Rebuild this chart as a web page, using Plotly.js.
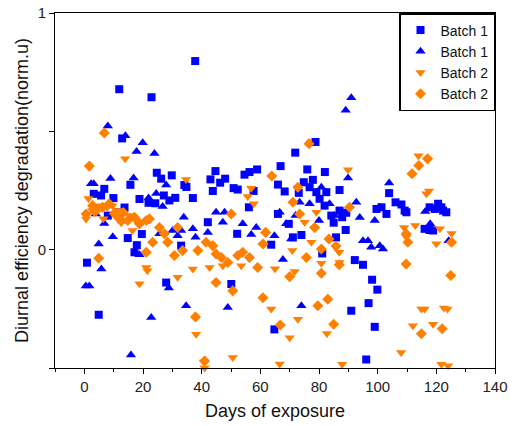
<!DOCTYPE html>
<html>
<head>
<meta charset="utf-8">
<script src="https://cdn.plot.ly/plotly-3.0.1.min.js"></script>
<style>html,body{margin:0;padding:0;background:#fff;}#chart{width:515px;height:426px;}</style>
</head>
<body>
<div id="chart"></div>
<script>
// Batch 1 (squares)
const b1sqX = [0.9,3.2,4.9,5.7,6.8,8.0,9.9,11.2,11.9,12.9,13.7,14.8,15.7,17.1,17.9,18.8,19.6,21.9,22.9,24.2,24.7,26.2,27.1,27.9,29.0,29.8,31.0,33.0,34.1,34.8,37.0,37.8,42.1,43.0,43.8,44.7,46.3,48.0,50.1,50.9,52.1,52.3,54.6,56.3,57.7,58.9,56.1,63.7,64.8,66.0,66.0,66.9,68.3,69.7,71.1,71.9,73.1,74.0,74.8,76.0,76.8,77.9,78.8,79.1,80.2,81.1,82.0,82.5,81.9,84.2,85.0,85.8,87.0,87.0,87.9,89.1,89.3,91.0,92.2,95.0,96.1,96.9,98.1,99.0,99.9,99.6,101.3,103.0,103.9,106.1,108.1,109.2,109.8,116.0,117.7,117.7,119.5,121.7,122.3,123.4,120.6,118.9];
const b1sqY = [-0.055,0.236,-0.275,0.229,0.257,0.144,0.218,0.158,0.678,0.470,0.178,0.049,0.274,-0.011,0.019,0.214,0.066,0.198,0.644,0.196,0.325,0.300,0.229,-0.139,0.208,0.314,0.219,0.017,0.273,0.265,0.218,0.797,0.116,0.297,0.248,0.332,0.283,0.300,-0.145,0.260,0.067,0.254,0.317,0.328,0.248,0.339,0.179,0.021,-0.337,0.275,0.151,0.353,0.246,0.109,0.052,0.410,0.240,0.062,0.285,0.339,0.264,0.295,0.455,0.243,0.215,-0.016,0.328,0.243,0.186,0.144,0.114,0.052,0.252,0.165,0.137,0.083,0.156,-0.258,-0.044,-0.064,-0.464,-0.226,-0.127,-0.326,-0.169,0.172,0.179,0.151,0.239,0.200,0.191,0.165,0.158,0.088,0.083,0.179,0.172,0.179,0.165,0.158,0.194,0.081];

// Batch 1 (up triangles)
const b1trX = [0.5,1.7,2.3,3.2,3.9,4.9,5.8,6.8,8.0,8.9,9.7,12.9,14.0,15.9,16.8,17.8,18.8,19.9,21.9,22.8,23.9,24.5,25.6,26.7,27.9,28.8,30.1,31.8,33.0,33.9,34.7,37.0,37.9,42.1,44.9,47.2,47.8,48.9,54.0,56.9,58.6,64.8,66.6,67.7,68.8,70.5,72.0,73.4,74.0,76.8,80.0,80.8,83.6,85.3,89.1,89.9,91.0,92.7,93.9,95.0,96.7,97.8,99.0,100.7,100.7,101.8,103.9,116.2,117.9,124.2];
const b1trY = [-0.153,-0.153,0.278,0.278,0.151,0.024,-0.082,0.111,0.523,0.301,0.055,0.121,0.481,-0.445,0.303,0.415,-0.021,0.452,0.218,-0.287,0.406,0.237,0.067,0.182,0.273,-0.162,0.081,0.059,0.081,0.137,-0.237,0.088,0.052,0.073,0.158,0.116,0.158,-0.244,0.109,0.064,0.094,0.059,0.158,-0.042,0.109,0.045,0.144,0.200,-0.237,0.194,0.123,0.264,0.194,0.144,0.589,0.303,0.642,0.200,0.136,0.038,0.038,0.010,0.123,0.179,0.017,0.003,0.282,0.161,0.109,0.038];

// Batch 2 (down triangles)
const b2trX = [0.6,1.4,5.1,7.8,9.6,13.9,15.4,16.4,17.6,18.8,21.1,21.5,31.8,34.7,37.0,38.1,40.8,41.0,42.7,47.2,50.6,53.5,55.7,56.9,57.8,63.7,65.0,66.6,70.0,70.9,71.7,72.8,75.1,77.4,79.1,80.8,82.7,86.9,87.0,87.9,89.9,108.0,109.0,109.8,112.0,112.8,113.9,114.9,116.0,116.6,117.5,118.9,120.0,121.2,121.7,122.6,123.8,124.0,125.2,3.4,11.3,12.6,6.5,2.7];
const b2trY = [0.130,0.216,0.186,0.179,0.186,0.384,0.144,0.081,0.123,-0.144,-0.075,-0.089,-0.117,0.297,-0.082,-0.357,-0.475,-0.500,-0.075,-0.068,-0.456,-0.068,0.225,0.260,0.194,-0.251,-0.081,-0.483,-0.372,-0.004,-0.092,-0.294,0.116,0.031,0.158,-0.057,-0.354,-0.011,-0.054,-0.484,0.338,-0.435,0.094,0.052,-0.322,0.102,0.397,-0.251,-0.251,0.236,0.248,-0.315,0.025,0.088,-0.484,-0.247,-0.251,-0.490,0.068,0.157,0.165,0.114,0.131,0.165];

// Batch 2 (diamonds)
const b2diX = [0.6,1.7,2.8,4.9,6.2,6.8,8.5,14.8,17.1,18.8,21.1,21.1,22.2,23.3,25.6,27.3,28.4,30.7,31.8,33.5,37.9,38.7,41.0,41.5,43.8,44.9,44.9,46.7,48.9,50.1,50.6,52.3,54.0,56.3,59.1,60.9,61.8,60.9,63.9,66.8,70.0,71.1,72.8,73.4,75.7,76.6,78.5,79.6,80.8,80.8,83.0,83.4,85.0,85.8,86.9,90.4,109.7,109.7,110.3,111.7,114.0,114.9,117.0,122.0,124.9,125.2,4.1,10.2,11.9,13.3];
const b2diY = [0.151,0.353,0.186,-0.036,0.179,0.493,0.194,0.123,0.137,0.109,0.123,-0.011,0.130,0.031,0.094,0.067,0.031,-0.025,0.094,-0.004,-0.284,-0.004,-0.470,0.031,0.017,-0.018,-0.139,-0.033,-0.054,0.151,-0.174,-0.025,-0.011,-0.033,-0.075,-0.203,0.073,0.024,0.311,-0.318,-0.114,0.200,0.264,0.151,-0.033,0.448,0.094,-0.237,0.003,-0.100,-0.209,0.045,-0.315,0.015,-0.064,0.179,0.067,-0.061,0.031,0.321,0.356,-0.355,0.384,-0.334,-0.109,0.031,0.165,0.153,0.131,0.157];

const seriesNames = ['Batch 1','Batch 1','Batch 2','Batch 2'];
const xTickVals = [0,20,40,60,80,100,120,140];
const yTickVals = [-0.5,0,0.5,1];
const yTickText = ['','0','','1'];

const BLUE = '#0000FF', ORANGE = '#FF8000';
const FONT = 'Arial, Liberation Sans, sans-serif';
function tr(x, y, name, symbol, color, size) {
  return {x, y, name, type: 'scatter', mode: 'markers', cliponaxis: false,
    marker: {symbol, color, size, line: {width: 0}}};
}
const data = [
  tr(b1sqX, b1sqY, seriesNames[0], 'square', BLUE, 8),
  tr(b1trX, b1trY, seriesNames[1], 'triangle-up', BLUE, 9),
  tr(b2trX, b2trY, seriesNames[2], 'triangle-down', ORANGE, 9),
  tr(b2diX, b2diY, seriesNames[3], 'diamond', ORANGE, 8.5)
];
const axisCommon = {showline: true, linecolor: '#000', linewidth: 1, mirror: true,
  ticks: 'outside', ticklen: 5, tickcolor: '#000', showgrid: false, zeroline: false,
  tickfont: {family: FONT, size: 15, color: '#222'}};
const layout = {
  width: 515, height: 426,
  margin: {l: 55, r: 20, t: 13, b: 58},
  paper_bgcolor: '#fff', plot_bgcolor: '#fff',
  font: {family: FONT, color: '#111'},
  xaxis: Object.assign({}, axisCommon, {
    range: [-10, 140], tickmode: 'array', tickvals: xTickVals,
    minor: {dtick: 10, tick0: 0, ticks: 'outside', ticklen: 3, tickcolor: '#000'},
    title: {text: 'Days of exposure', font: {size: 18}, standoff: 10}
  }),
  yaxis: Object.assign({}, axisCommon, {
    range: [-0.5, 1], tickmode: 'array', tickvals: yTickVals, ticktext: yTickText,
    title: {text: 'Diurnal efficiency degradation(norm.u)', font: {size: 18}, standoff: 4}
  }),
  showlegend: true,
  legend: {x: 1, y: 1, xanchor: 'right', yanchor: 'top', bgcolor: '#fff',
    bordercolor: '#000', borderwidth: 1.5, tracegroupgap: 0,
    font: {family: FONT, size: 14, color: '#111'}}
};
Plotly.newPlot('chart', data, layout, {displayModeBar: false, staticPlot: true});
</script>
</body>
</html>
